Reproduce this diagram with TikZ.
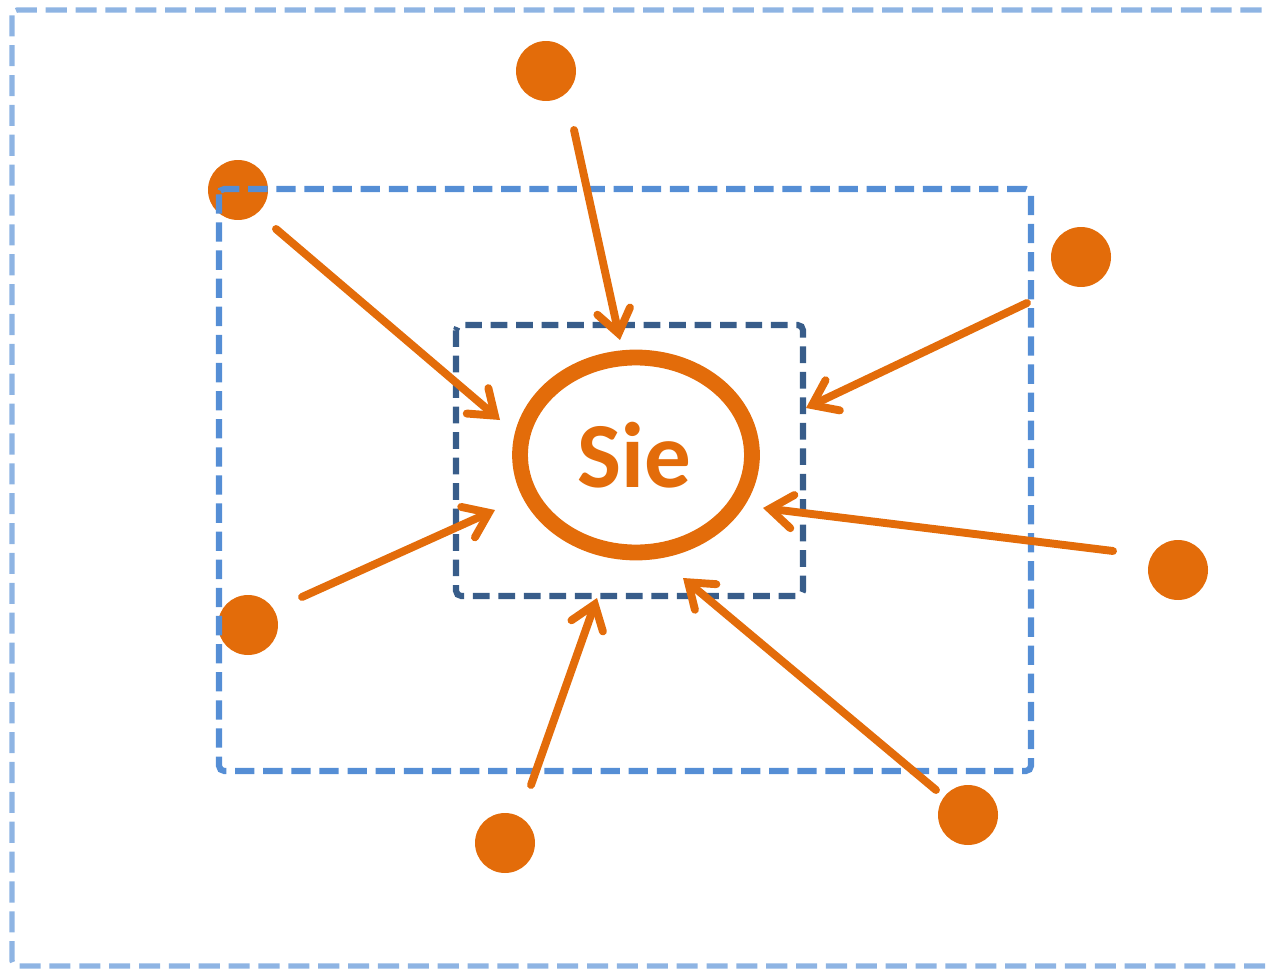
\documentclass[tikz,border=0pt]{standalone}
\usepackage{fontspec}
\setmainfont{Carlito}
\usetikzlibrary{arrows.meta,shapes.geometric}

\definecolor{sieorange}{HTML}{E36C0A}
\definecolor{outerblue}{HTML}{8EB4E3}
\definecolor{midblue}{HTML}{558ED5}
\definecolor{innerblue}{HTML}{385D8A}

\begin{document}
\begin{tikzpicture}[
  x=0.02cm, y=-0.02cm,
  dot/.style={circle, fill=sieorange, minimum size=1.2cm, inner sep=0pt},
  outerbox/.style={draw=outerblue, line width=3pt, dash pattern=on 12pt off 5pt, rounded corners=3pt},
  midbox/.style={draw=midblue, line width=3.5pt, dash pattern=on 11pt off 5pt, rounded corners=3pt},
  innerbox/.style={draw=innerblue, line width=3.5pt, dash pattern=on 9.5pt off 5pt, rounded corners=3pt},
  selfnode/.style={draw=sieorange, line width=9pt, ellipse, minimum width=4.64cm, minimum height=3.9cm, inner sep=0pt},
  selftext/.style={text=sieorange, font=\fontsize{53}{60}\selectfont\bfseries},
  pull/.style={sieorange, line width=4.5pt, line cap=round,
    -{Straight Barb[length=13pt, width=19pt, line cap=round]}}
]
  \clip (0,0) rectangle (1266,969);

  %--- dots
  \node[dot] (d1) at (546,71)   {};
  \node[dot] (d2) at (238,190)  {};
  \node[dot] (d3) at (1081,257) {};
  \node[dot] (d4) at (248,625)  {};
  \node[dot] (d5) at (1178,570) {};
  \node[dot] (d6) at (505,843)  {};
  \node[dot] (d7) at (968,815)  {};

  %--- boxes
  \draw[outerbox] (12,10) rectangle (1300,966);
  \draw[midbox]   (219,189) rectangle (1031,771);
  \draw[innerbox] (456,325) rectangle (803,596);

  %--- center
  \node[selfnode] (sie) at (636,455) {};
  \node[selftext] (sietext) at (634,455) {Sie};

  %--- arrow ends
  \coordinate (s1) at (574,130);  \coordinate (t1) at (620,340);
  \coordinate (s2) at (276,229);  \coordinate (t2) at (500,420);
  \coordinate (s3) at (1027,303); \coordinate (t3) at (806,408);
  \coordinate (s4) at (302,597);  \coordinate (t4) at (495,510);
  \coordinate (s5) at (1113,551); \coordinate (t5) at (763,508);
  \coordinate (s6) at (531,785);  \coordinate (t6) at (597,598);
  \coordinate (s7) at (936,790);  \coordinate (t7) at (683,578);

  %--- arrows
  \foreach \i in {1,...,7}
    \draw[pull] (s\i) -- (t\i);
\end{tikzpicture}
\end{document}
